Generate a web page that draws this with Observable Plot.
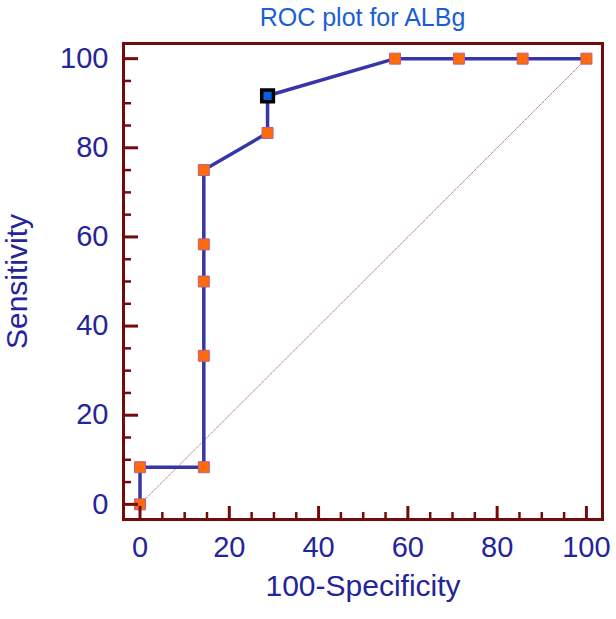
<!DOCTYPE html>
<html>
<head>
<meta charset="utf-8">
<script src="https://cdn.jsdelivr.net/npm/d3@7"></script>
<script src="https://cdn.jsdelivr.net/npm/@observablehq/plot@0.6"></script>
<style>
  html, body { margin: 0; padding: 0; background: #fff; }
  #title { width: 616px; height: 34px; line-height: 34px; box-sizing: border-box; padding-left: 109px;
           text-align: center; font-family: "Liberation Sans", Arial, sans-serif; font-size: 25px; color: #1a5ed6; }
  #chart svg { display: block; overflow: visible; }
</style>
</head>
<body>
<div id="title">ROC plot for ALBg</div>
<div id="chart"></div>
<script>
// ROC curve points (100-Specificity, Sensitivity)
const falsePositiveRate = [0, 0, 14.29, 14.29, 14.29, 14.29, 14.29, 28.57, 28.57, 57.14, 71.43, 85.71, 100];
const sensitivity = [0, 8.33, 8.33, 33.33, 50, 58.33, 75, 83.33, 91.67, 100, 100, 100, 100];
const optimalIndex = 8;
const majorTicks = [0, 20, 40, 60, 80, 100];
const minorTicks = [5, 10, 15, 25, 30, 35, 45, 50, 55, 65, 70, 75, 85, 90, 95];
const diagonal = [0, 100];

const points = falsePositiveRate.map((x, i) => ({x, y: sensitivity[i], optimal: i === optimalIndex}));
const diag = diagonal.map(v => ({x: v, y: v}));

const W = 616, H = 585;
const mL = 123, mR = 14, mT = 9, mB = 100;
const innerW = W - mL - mR, innerH = H - mT - mB;
const maroon = "#730b0b";
const textBlue = "#24249b";
const font = "Liberation Sans, Arial, sans-serif";

const chart = Plot.plot({
  width: W, height: H,
  marginLeft: mL, marginRight: mR, marginTop: mT, marginBottom: mB,
  style: {fontFamily: font, background: "white"},
  x: {domain: [-3.7, 103.6], label: null},
  y: {domain: [-3.4, 103.4], label: null},
  marks: [
    Plot.line(diag, {x: "x", y: "y", stroke: "#c98080", strokeWidth: 1, strokeDasharray: "2.5,1.5"}),
    Plot.line(points, {x: "x", y: "y", stroke: "#3636a8", strokeWidth: 3.5}),
    Plot.dot(points.filter(d => !d.optimal), {x: "x", y: "y", symbol: "square", r: 6.2, fill: "#ff6a0a", stroke: "#b8608a", strokeWidth: 1}),
    Plot.dot(points.filter(d => d.optimal), {x: "x", y: "y", symbol: "square", r: 6.6, fill: "#0b5ee0", stroke: "#000", strokeWidth: 3.5}),
    // inward ticks
    Plot.ruleX(majorTicks, {x: d => d, insetTop: innerH - 13, stroke: maroon, strokeWidth: 3}),
    Plot.ruleX(minorTicks, {x: d => d, insetTop: innerH - 7, stroke: maroon, strokeWidth: 2.5}),
    Plot.ruleY(majorTicks, {y: d => d, insetRight: innerW - 15, stroke: maroon, strokeWidth: 3}),
    Plot.ruleY(minorTicks, {y: d => d, insetRight: innerW - 8, stroke: maroon, strokeWidth: 2.5}),
    Plot.frame({stroke: maroon, strokeWidth: 3}),
    Plot.axisX({ticks: majorTicks, tickSize: 0, tickPadding: 17, fontSize: 29, fill: textBlue, label: null}),
    Plot.axisY({ticks: majorTicks, tickSize: 0, tickPadding: 15, fontSize: 29, fill: textBlue, label: null}),
    Plot.text(["100-Specificity"], {frameAnchor: "bottom", dy: 76, text: d => d, fontSize: 30, fill: textBlue}),
    Plot.text(["Sensitivity"], {frameAnchor: "left", dx: -106, rotate: -90, textAnchor: "middle", lineAnchor: "middle", text: d => d, fontSize: 30, fill: textBlue})
  ]
});
document.getElementById("chart").appendChild(chart);
</script>
</body>
</html>
